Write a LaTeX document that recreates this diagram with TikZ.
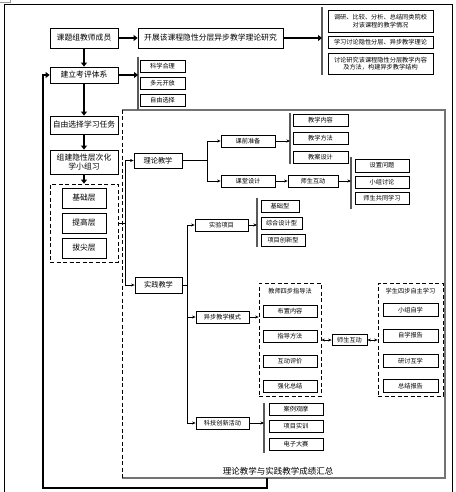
\documentclass[tikz,border=0pt]{standalone}
\usepackage{fontspec}
\newfontfamily\cjk{Noto Sans CJK SC}
\usetikzlibrary{arrows.meta}
\begin{document}
\begin{tikzpicture}[x=1pt,y=-1pt,
 bx/.style={draw, line width=0.8pt, inner sep=0.5pt, align=center, font=\cjk\fontsize{7.2}{8.5}\selectfont},
 sbx/.style={bx, font=\cjk\fontsize{6.2}{7.4}\selectfont},
 mbx/.style={bx, font=\cjk\fontsize{7.8}{9.8}\selectfont},
 thk/.style={line width=2pt, -{Triangle[length=4pt,width=6pt]}},
 thn/.style={line width=0.7pt, -{Stealth[length=3.5pt,width=3pt]}},
 thline/.style={line width=0.7pt},
 dbl/.style={line width=0.7pt, {Stealth[length=3.5pt,width=3pt]}-{Stealth[length=3.5pt,width=3pt]}},
 brk/.style={line width=1.2pt, draw=black!65},
 dbox/.style={draw, dash pattern=on 4pt off 2.5pt, line width=0.8pt}
]
\useasboundingbox (0,0) rectangle (455,492);
% outer frame and corner mark
\draw[line width=0.8pt] (4,492) -- (4,4) -- (452,4) -- (452,492);
\draw[black!40, line width=0.5pt] (0,2.5) -- (10,2.5) -- (10,0);
% inner region
\draw[black!55, line width=1.3pt] (122,110) -- (445,110) -- (445,478) -- (122,478);
\draw[dbox] (122,110) -- (122,478);

% left column
\node[mbx, minimum width=68pt, minimum height=20pt] (k1) at (84,38) {课题组教师成员};
\node[mbx, minimum width=145pt, minimum height=20pt] (kt) at (210.5,38) {开展该课程隐性分层异步教学理论研究};
\node[mbx, minimum width=68pt, minimum height=16pt] (k2) at (84,75) {建立考评体系};
\node[mbx, minimum width=68pt, minimum height=18pt] (k3) at (84,125) {自由选择学习任务};
\node[mbx, minimum width=68pt, minimum height=24pt] (k4) at (84,162) {组建隐性层次化\\学小组习};
\node[dbox, minimum width=68pt, minimum height=78pt] (lay) at (84,223) {};
\node[mbx, minimum width=44pt, minimum height=20pt] (l1) at (84,198) {基础层};
\node[mbx, minimum width=44pt, minimum height=20pt] (l2) at (84,223) {提高层};
\node[mbx, minimum width=44pt, minimum height=20pt] (l3) at (84,248) {拔尖层};
\draw[thk] (k1) -- (kt);
\draw[thk] (k1) -- (k2);
\draw[thk] (k2) -- (k3);
\draw[thk] (k3) -- (k4);
\draw[thk] (k4) -- (lay);

% top bracket
\coordinate (bA1) at (322,7);
\coordinate (bA2) at (322,75);
\draw[brk] (bA1) -- (bA2);
\draw[thk] (kt.east) -- (kt.east -| bA1);
\node[sbx, minimum width=105pt, minimum height=22pt] (t1) at (380.5,21) {调研、比较、分析、总结同类院校\\对该课程的教学情况};
\node[sbx, minimum width=105pt, minimum height=12pt] (t2) at (380.5,42) {学习讨论隐性分层、异步教学理论};
\node[sbx, minimum width=105pt, minimum height=21pt] (t3) at (380.5,63.5) {讨论研究该课程隐性分层教学内容\\及方法，构建异步教学结构};

% evaluation bracket
\coordinate (bB1) at (138,57);
\coordinate (bB2) at (138,110);
\draw[brk] (bB1) -- (bB2);
\draw[thk] (k2.east) -- (k2.east -| bB1);
\node[sbx, minimum width=45pt, minimum height=12pt] (e1) at (162.5,66) {科学合理};
\node[sbx, minimum width=45pt, minimum height=12pt] (e2) at (162.5,83) {多元开放};
\node[sbx, minimum width=45pt, minimum height=12pt] (e3) at (162.5,100) {自由选择};

% theory / practice split
\node[bx, minimum width=48pt, minimum height=15pt] (ll) at (158,160.5) {理论教学};
\node[bx, minimum width=47pt, minimum height=16pt] (sj) at (158.5,285) {实践教学};
\coordinate (j1) at (125,223);
\draw[thline] (lay.east) -- (j1);
\draw[thn] (j1) |- (ll.west);
\draw[thn] (j1) |- (sj.west);

% theory branch
\node[sbx, minimum width=54pt, minimum height=12pt] (kq) at (248,141) {课前准备};
\node[sbx, minimum width=54pt, minimum height=12pt] (kt2) at (248,181) {课堂设计};
\coordinate (j2) at (207,160.5);
\draw[thline] (ll.east) -- (j2);
\draw[thn] (j2) |- (kq.west);
\draw[thn] (j2) |- (kt2.west);

\coordinate (bC1) at (290,113);
\coordinate (bC2) at (290,164);
\draw[brk] (bC1) -- (bC2);
\draw[thn] (kq.east) -- (kq.east -| bC1);
\node[sbx, minimum width=55pt, minimum height=12pt] (c1) at (320.5,120) {教学内容};
\node[sbx, minimum width=55pt, minimum height=12pt] (c2) at (320.5,138.5) {教学方法};
\node[sbx, minimum width=55pt, minimum height=12pt] (c3) at (320.5,157) {教案设计};

\node[sbx, minimum width=50pt, minimum height=12pt] (hd1) at (313,181) {师生互动};
\draw[thn] (kt2) -- (hd1);
\coordinate (bD1) at (351,157);
\coordinate (bD2) at (351,209);
\draw[brk] (bD1) -- (bD2);
\draw[thn] (hd1.east) -- (hd1.east -| bD1);
\node[sbx, minimum width=54pt, minimum height=13pt] (d1) at (382,165.5) {设置问题};
\node[sbx, minimum width=54pt, minimum height=12pt] (d2) at (382,182) {小组讨论};
\node[sbx, minimum width=54pt, minimum height=12pt] (d3) at (382,198) {师生共同学习};

% practice branch
\node[sbx, minimum width=53pt, minimum height=12pt] (sy) at (221.5,225) {实验项目};
\node[sbx, minimum width=53pt, minimum height=12pt] (yb) at (222.5,317) {异步教学模式};
\node[sbx, minimum width=53pt, minimum height=12pt] (kj) at (222.5,423) {科技创新活动};
\coordinate (j3) at (187,285);
\draw[thline] (sj.east) -- (j3);
\draw[thn] (j3) |- (sy.west);
\draw[thn] (j3) |- (yb.west);
\draw[thn] (j3) |- (kj.west);

\coordinate (bE1) at (257,198);
\coordinate (bE2) at (257,247);
\draw[brk] (bE1) -- (bE2);
\draw[thn] (sy.east) -- (sy.east -| bE1);
\node[sbx, minimum width=38pt, minimum height=12pt] (f1) at (280,206) {基础型};
\node[sbx, minimum width=41pt, minimum height=12pt] (f2) at (281.5,223) {综合设计型};
\node[sbx, minimum width=44pt, minimum height=12pt] (f3) at (283,240.5) {项目创新型};

% teacher four steps
\node[dbox, minimum width=62pt, minimum height=113pt] (tb) at (290,339.5) {};
\node[font=\cjk\fontsize{6.2}{7.4}\selectfont, inner sep=0pt] (tbt) at (290,291) {教师四步指导法};
\node[sbx, minimum width=54pt, minimum height=12pt] (g1) at (290,311) {布置内容};
\node[sbx, minimum width=54pt, minimum height=12pt] (g2) at (290,336) {指导方法};
\node[sbx, minimum width=54pt, minimum height=12pt] (g3) at (290,361) {互动评价};
\node[sbx, minimum width=54pt, minimum height=12pt] (g4) at (290,386) {强化总结};
\draw[thn] (yb.east) -- (yb.east -| tb.west);

% student four steps
\node[dbox, minimum width=65pt, minimum height=113pt] (sb) at (410.5,339.5) {};
\node[font=\cjk\fontsize{6.2}{7.4}\selectfont, inner sep=0pt] (sbt) at (410.5,291) {学生四步自主学习};
\node[sbx, minimum width=55pt, minimum height=13pt] (h1) at (410.5,310) {小组自学};
\node[sbx, minimum width=55pt, minimum height=13pt] (h2) at (410.5,335.5) {自学报告};
\node[sbx, minimum width=55pt, minimum height=13pt] (h3) at (410.5,361) {研讨互学};
\node[sbx, minimum width=55pt, minimum height=13pt] (h4) at (410.5,386) {总结报告};

\node[sbx, minimum width=35pt, minimum height=11pt] (hd2) at (349.5,340) {师生互动};
\draw[dbl] (hd2.west -| tb.east) -- (hd2.west);
\draw[dbl] (hd2.east) -- (hd2.east -| sb.west);

% innovation bracket
\coordinate (bF1) at (264,403);
\coordinate (bF2) at (264,453);
\draw[brk] (bF1) -- (bF2);
\draw[thn] (kj.east) -- (kj.east -| bF1);
\node[sbx, minimum width=54pt, minimum height=12pt] (m1) at (296,409) {案例观摩};
\node[sbx, minimum width=54pt, minimum height=12pt] (m2) at (296,426.5) {项目实训};
\node[sbx, minimum width=54pt, minimum height=12pt] (m3) at (296,444) {电子大赛};

% summary and feedback
\node[font=\cjk\fontsize{8.5}{10}\selectfont, inner sep=0pt] (sum) at (278,471) {理论教学与实践教学成绩汇总};
\coordinate (sumpt) at (267,478);
\coordinate (fb1) at (267,488);
\coordinate (fb2) at (43,488);
\draw[thk] (sumpt) -- (fb1) -- (fb2) |- (k2.west);
\end{tikzpicture}
\end{document}
